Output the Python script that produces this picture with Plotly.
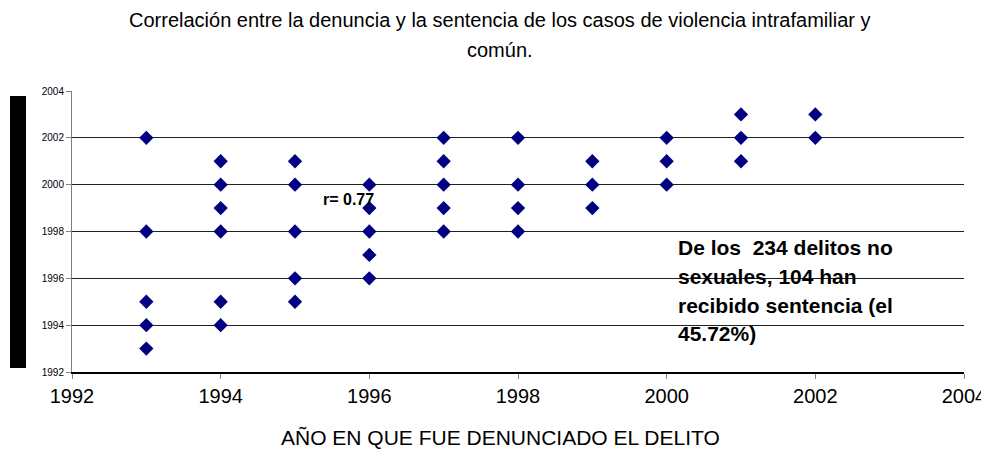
import plotly.graph_objects as go

denuncia = [1993]*5 + [1994]*6 + [1995]*5 + [1996]*5 + [1997]*5 + [1998]*4 + [1999]*3 + [2000]*3 + [2001]*3 + [2002]*2
sentencia = [2002, 1998, 1995, 1994, 1993,
             2001, 2000, 1999, 1998, 1995, 1994,
             2001, 2000, 1998, 1996, 1995,
             2000, 1999, 1998, 1997, 1996,
             2002, 2001, 2000, 1999, 1998,
             2002, 2000, 1999, 1998,
             2001, 2000, 1999,
             2002, 2001, 2000,
             2003, 2002, 2001,
             2003, 2002]

title_lines = ["Correlación entre la denuncia y la sentencia de los casos de violencia intrafamiliar y",
               "común."]
x_title = "AÑO EN QUE FUE DENUNCIADO EL DELITO"
r_text = "r= 0.77"
box_lines = ["De los  234 delitos no", "sexuales, 104 han", "recibido sentencia (el", "45.72%)"]

# page body has an 8px default margin; offset the figure so it lines up with the window
OFF = 8
W, H = 989 - OFF, 457 - 2 * OFF
L, T = 72 - OFF, 91 - OFF
PLOT_R, PLOT_B = 964 - OFF, 372 - OFF
R, B = W - PLOT_R, H - PLOT_B
PW, PH = PLOT_R - L, PLOT_B - T

def px_x(px):
    return (px - OFF - L) / PW

def px_y(py):
    return (PLOT_B - (py - OFF)) / PH

fig = go.Figure()
fig.add_trace(go.Scatter(
    x=denuncia, y=sentencia, mode="markers",
    marker=dict(symbol="diamond", size=11, color="#000080", line=dict(width=0)),
    showlegend=False, hoverinfo="x+y"))

font = "Liberation Sans, Arial, sans-serif"

annotations = []
for line, py in zip(title_lines, [20, 50]):
    annotations.append(dict(text=line, x=px_x(500), y=px_y(py), xref="paper", yref="paper",
                            xanchor="center", yanchor="middle", showarrow=False,
                            font=dict(size=20, family=font, color="black")))
annotations.append(dict(text=x_title, x=px_x(500), y=px_y(437), xref="paper", yref="paper",
                        xanchor="center", yanchor="middle", showarrow=False,
                        font=dict(size=21, family=font, color="black")))
annotations.append(dict(text="<b>" + r_text + "</b>", x=px_x(348), y=px_y(199),
                        xref="paper", yref="paper", xanchor="center", yanchor="middle",
                        showarrow=False, font=dict(size=16, family=font, color="black")))
for line, py in zip(box_lines, [247, 276, 305, 333]):
    annotations.append(dict(text="<b>" + line + "</b>", x=px_x(676), y=px_y(py),
                            xref="paper", yref="paper", xanchor="left", yanchor="middle",
                            align="left", showarrow=False,
                            font=dict(size=21, family=font, color="black")))

fig.update_layout(
    width=W, height=H,
    margin=dict(l=L, r=R, t=T, b=B),
    paper_bgcolor="white", plot_bgcolor="white",
    font=dict(family=font, color="black"),
    xaxis=dict(range=[1992, 2004], tickvals=list(range(1992, 2005, 2)),
               ticks="outside", ticklen=5, tickcolor="gray", automargin=False,
               ticklabeloverflow="allow",
               showline=True, linecolor="black", linewidth=1.5, showgrid=False, zeroline=False,
               tickfont=dict(size=20, family=font)),
    yaxis=dict(range=[1992, 2004], tickvals=list(range(1992, 2005, 2)),
               ticks="outside", ticklen=5, tickcolor="gray", automargin=False,
               showline=True, linecolor="gray", linewidth=1,
               showgrid=True, gridcolor="#222222", gridwidth=1, zeroline=False,
               tickfont=dict(size=10, family=font)),
    shapes=[dict(type="rect", xref="paper", yref="paper", x0=px_x(10), x1=px_x(26),
                 y0=px_y(368), y1=px_y(96), fillcolor="black", line=dict(width=0))],
    annotations=annotations,
)

fig.write_html("out.html")
